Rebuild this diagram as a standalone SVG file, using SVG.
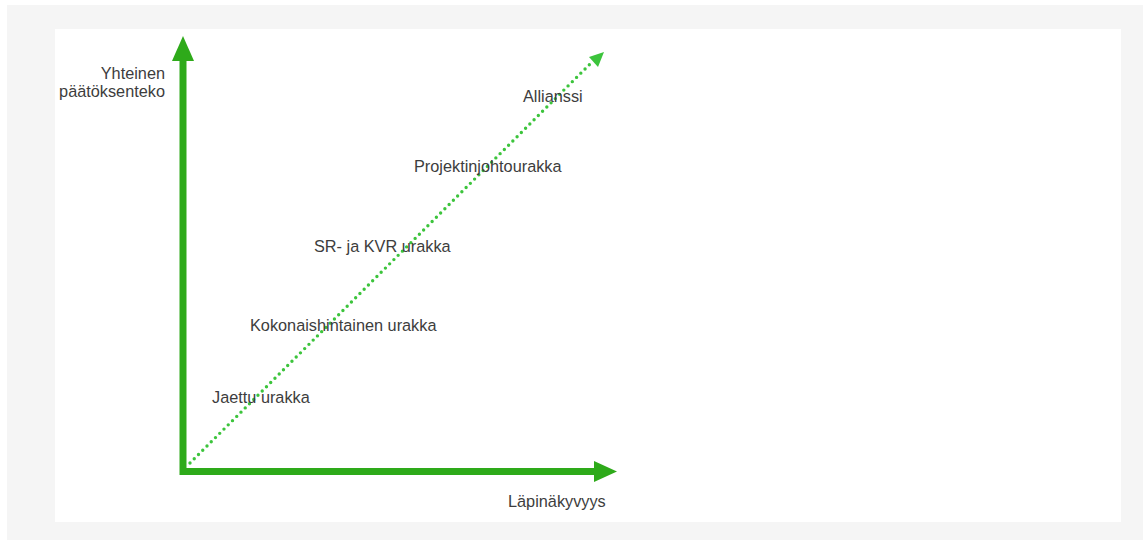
<svg xmlns="http://www.w3.org/2000/svg" width="1143" height="540" viewBox="0 0 1143 540">
<style>
.lbl{font-family:"Liberation Sans",Arial,sans-serif;font-size:16.3px;fill:#3d3d3d}
.axis{stroke:#2eaa1a;stroke-width:7;fill:none}
</style>
<rect x="7" y="5" width="1136" height="535" fill="#f5f5f5"/>
<rect x="55" y="29" width="1066" height="493" fill="#ffffff"/>
<g id="connectors">
<path class="axis" d="M183,475 L183,58"/>
<path d="M172,61 L183,36 L194,61 Z" fill="#2eaa1a"/>
<path class="axis" d="M180,471.5 L597,471.5"/>
<path d="M594,461 L617,471.5 L594,482 Z" fill="#2eaa1a"/>
<line x1="190" y1="463" x2="591" y2="63" stroke="#3cc43c" stroke-width="3.4" stroke-dasharray="0 6" stroke-linecap="round"/>
<path d="M589,57 L604,52 L598,67 Z" fill="#3cc43c"/>
</g>
<g id="y-label"><text class="lbl" text-anchor="end" x="165" y="79">Yhteinen</text><text class="lbl" text-anchor="end" x="165" y="97">päätöksenteko</text></g>
<g id="x-label"><text class="lbl" x="508" y="507">Läpinäkyvyys</text></g>
<g id="allianssi"><text class="lbl" x="523" y="102">Allianssi</text></g>
<g id="projektinjohtourakka"><text class="lbl" x="414" y="172">Projektinjohtourakka</text></g>
<g id="sr-kvr"><text class="lbl" x="314" y="252">SR- ja KVR urakka</text></g>
<g id="kokonaishintainen"><text class="lbl" x="250" y="331">Kokonaishintainen urakka</text></g>
<g id="jaettu"><text class="lbl" x="212" y="403">Jaettu urakka</text></g>
</svg>
